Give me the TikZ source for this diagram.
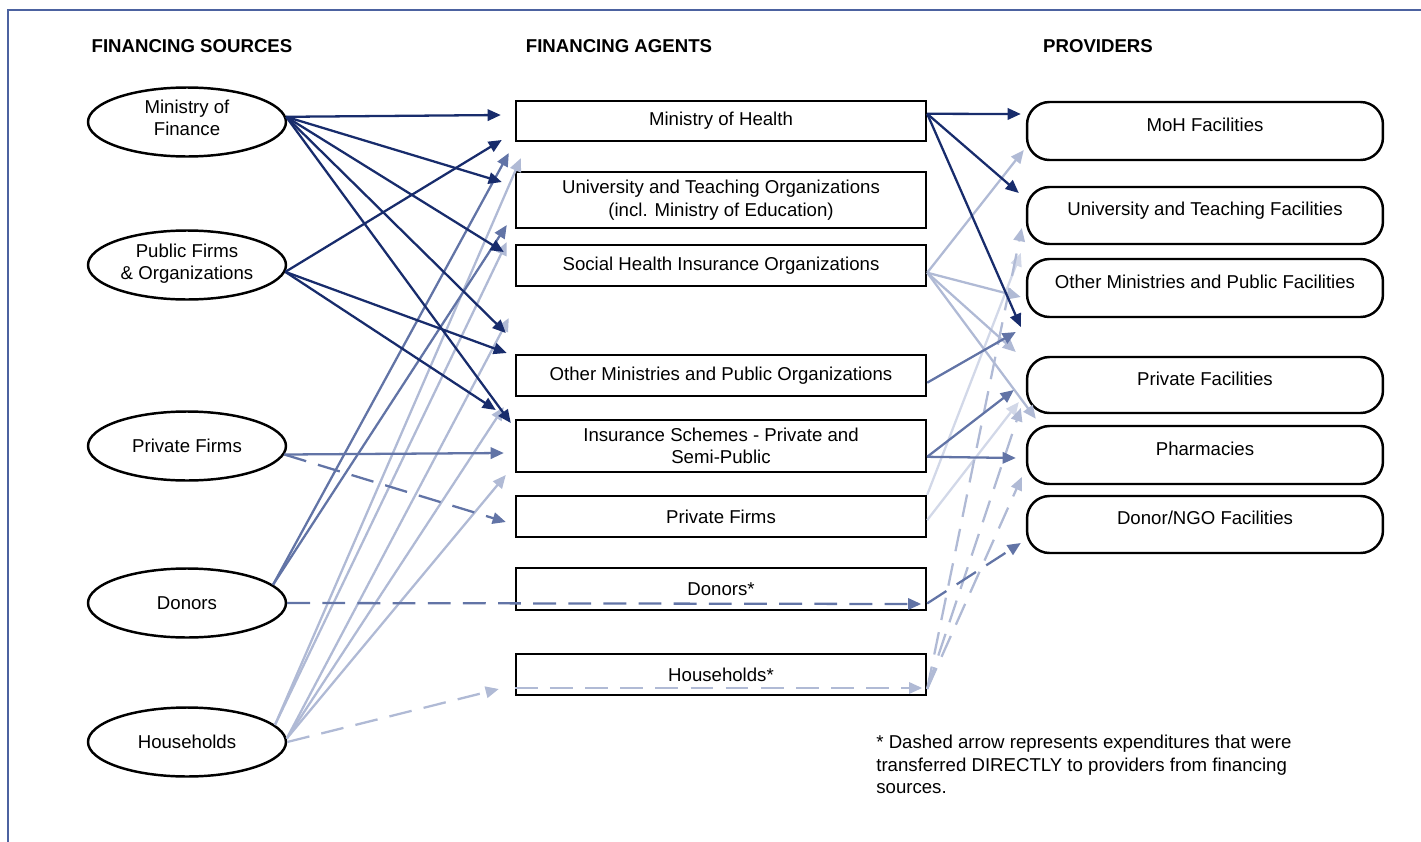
\documentclass[tikz,border=0pt]{standalone}
\usepackage{fontspec}
\setmainfont{Liberation Sans}
\usetikzlibrary{arrows.meta,shapes.geometric}
\definecolor{navy}{RGB}{24,44,108}
\definecolor{slate}{RGB}{98,116,166}
\definecolor{mist}{RGB}{176,186,213}
\definecolor{haze}{RGB}{210,216,232}
\definecolor{framec}{RGB}{76,98,160}
\begin{document}
\begin{tikzpicture}[x=0.02cm,y=-0.02cm,>={Triangle[length=7.5pt,width=6.5pt]},
every node/.style={font=\fontsize{10.6}{12.8}\selectfont},
src/.style={draw,ellipse,line width=1.4pt,minimum width=3.96cm,minimum height=1.38cm,inner sep=0pt,align=center},
agt/.style={draw,rectangle,line width=1.4pt,minimum width=8.2cm,inner sep=0pt,align=center},
prov/.style={draw,rounded corners=0.45cm,line width=1.4pt,minimum width=7.12cm,inner sep=0pt,text height=0.2cm,text depth=0.2cm},
hdr/.style={font=\fontsize{10.6}{12.8}\selectfont\bfseries},
drk/.style={navy,line width=1.3pt},
med/.style={slate,line width=1.3pt},
lgt/.style={mist,line width=1.3pt},
vlt/.style={haze,line width=1.3pt},
dsh/.style={dash pattern=on 13pt off 7pt}]
\useasboundingbox (0,0) rectangle (1421,842);
\draw[framec,line width=0.9pt] (8,842) -- (8,10) -- (1421,10);
\node[hdr] (hsrc) at (192,46) {FINANCING SOURCES};
\node[hdr] (hagt) at (619,46) {FINANCING AGENTS};
\node[hdr] (hprv) at (1098,46) {PROVIDERS};
\node[src] (mof) at (187,122) {Ministry of\\Finance\\[-8pt]};
\node[src] (pfo) at (187,265) {Public Firms\\\& Organizations\\[-9pt]};
\node[src] (prf) at (187,446) {Private Firms};
\node[src] (don) at (187,603) {Donors};
\node[src] (hh) at (187,742) {Households};
\node[agt,minimum height=0.8cm] (moh) at (721,121) {Ministry of Health};
\node[agt,minimum height=1.12cm] (uto) at (721,200) {University and Teaching Organizations\\(incl. Ministry of Education)};
\node[agt,minimum height=0.82cm] (shi) at (721,265.5) {Social Health Insurance Organizations};
\node[agt,minimum height=0.82cm] (omp) at (721,375.5) {Other Ministries and Public Organizations};
\node[agt,minimum height=1.04cm] (ins) at (721,446) {Insurance Schemes - Private and\\Semi-Public};
\node[agt,minimum height=0.82cm] (pfa) at (721,516.5) {Private Firms};
\node[agt,minimum height=0.84cm] (doa) at (721,589) {Donors*};
\node[agt,minimum height=0.82cm] (hha) at (721,674.5) {Households*};
\node[prov,minimum height=1.16cm] (mohf) at (1205,131) {MoH Facilities};
\node[prov,minimum height=1.14cm] (utf) at (1205,215.5) {University and Teaching Facilities};
\node[prov,minimum height=1.16cm] (omf) at (1205,288) {Other Ministries and Public Facilities};
\node[prov,minimum height=1.12cm] (pvf) at (1205,385) {Private Facilities};
\node[prov,minimum height=1.16cm] (pha) at (1205,455) {Pharmacies};
\node[prov,minimum height=1.14cm] (dnf) at (1205,524.5) {Donor/NGO Facilities};
\node[anchor=north west,inner sep=0pt,align=left] (note) at (876,735) {* Dashed arrow represents expenditures that were\\transferred DIRECTLY to providers from financing\\sources.};
\draw[vlt][->] (pfa.north east) -- ([shift={(-5,37.5)}]utf.west);
\draw[vlt][->] (pfa.-1) -- ([shift={(-7,17)}]pvf.west);
\draw[lgt][->] (hh.11) -- ([shift={(6,16)}]moh.south west);
\draw[lgt][->] (hh.11) -- ([shift={(-8,-23.5)}]shi.west);
\draw[lgt][->] (hh.2) -- ([shift={(-6,-57.5)}]omp.west);
\draw[lgt][->] (hh.2) -- ([shift={(-11,-39)}]ins.west);
\draw[lgt][->] (hh.2) -- ([shift={(-9,29)}]ins.west);
\draw[lgt,dsh][->] (hh.east) -- ([shift={(-16,14.5)}]hha.west);
\draw[lgt,dsh][->] ([shift={(0,13.5)}]hha.west) -- ([shift={(-5,13.5)}]hha.east);
\draw[lgt,dsh][->] (hha.-4.3) -- ([shift={(-4,12.5)}]utf.west);
\draw[lgt,dsh][->] (hha.-4.3) -- ([shift={(-5,23)}]pvf.west);
\draw[lgt,dsh][->] (hha.-4.3) -- ([shift={(-4,22)}]pha.west);
\draw[lgt][->] (shi.-2) -- ([shift={(-2,19)}]mohf.west);
\draw[lgt][->] (shi.-2) -- ([shift={(-5,9)}]omf.west);
\draw[lgt][->] (shi.-2) -- ([shift={(-10,-33)}]pvf.west);
\draw[lgt][->] (shi.-2) -- ([shift={(10,-6)}]pha.north west);
\draw[med][->] (don.12) -- ([shift={(-6,32)}]moh.west);
\draw[med][->] (don.12) -- ([shift={(-8,25)}]uto.west);
\draw[med,dsh][->] (don.east) -- ([shift={(-6,15)}]doa.east);
\draw[med,dsh][->] (doa.-4.2) -- ([shift={(-5,18.5)}]dnf.west);
\draw[med][->] (prf.-5) -- ([shift={(-11,7)}]ins.west);
\draw[med,dsh][->] (prf.-5) -- ([shift={(-9,5.5)}]pfa.west);
\draw[med][->] (omp.-2) -- ([shift={(-10,44)}]omf.west);
\draw[med][->] (ins.-3.35) -- ([shift={(-12,5)}]pvf.west);
\draw[med][->] (ins.-3.35) -- ([shift={(-10,3)}]pha.west);
\draw[drk][->] (mof.3) -- ([shift={(-14,-6)}]moh.west);
\draw[drk][->] (mof.3) -- ([shift={(-13,-18)}]uto.west);
\draw[drk][->] (mof.3) -- ([shift={(-11,-13.5)}]shi.west);
\draw[drk][->] (mof.3) -- ([shift={(-9,-42.5)}]omp.west);
\draw[drk][->] (mof.3) -- ([shift={(-4,-23)}]ins.west);
\draw[drk][->] (pfo.-4) -- ([shift={(-13,19)}]moh.west);
\draw[drk][->] (pfo.-4) -- ([shift={(-8,-22.5)}]omp.west);
\draw[drk][->] (pfo.-4) -- ([shift={(-19,-36)}]ins.west);
\draw[drk][->] (moh.2) -- ([shift={(-5,-17)}]mohf.west);
\draw[drk][->] (moh.2) -- ([shift={(-7,-22.5)}]utf.west);
\draw[drk][->] (moh.2) -- ([shift={(-5,39)}]omf.west);
\end{tikzpicture}
\end{document}
